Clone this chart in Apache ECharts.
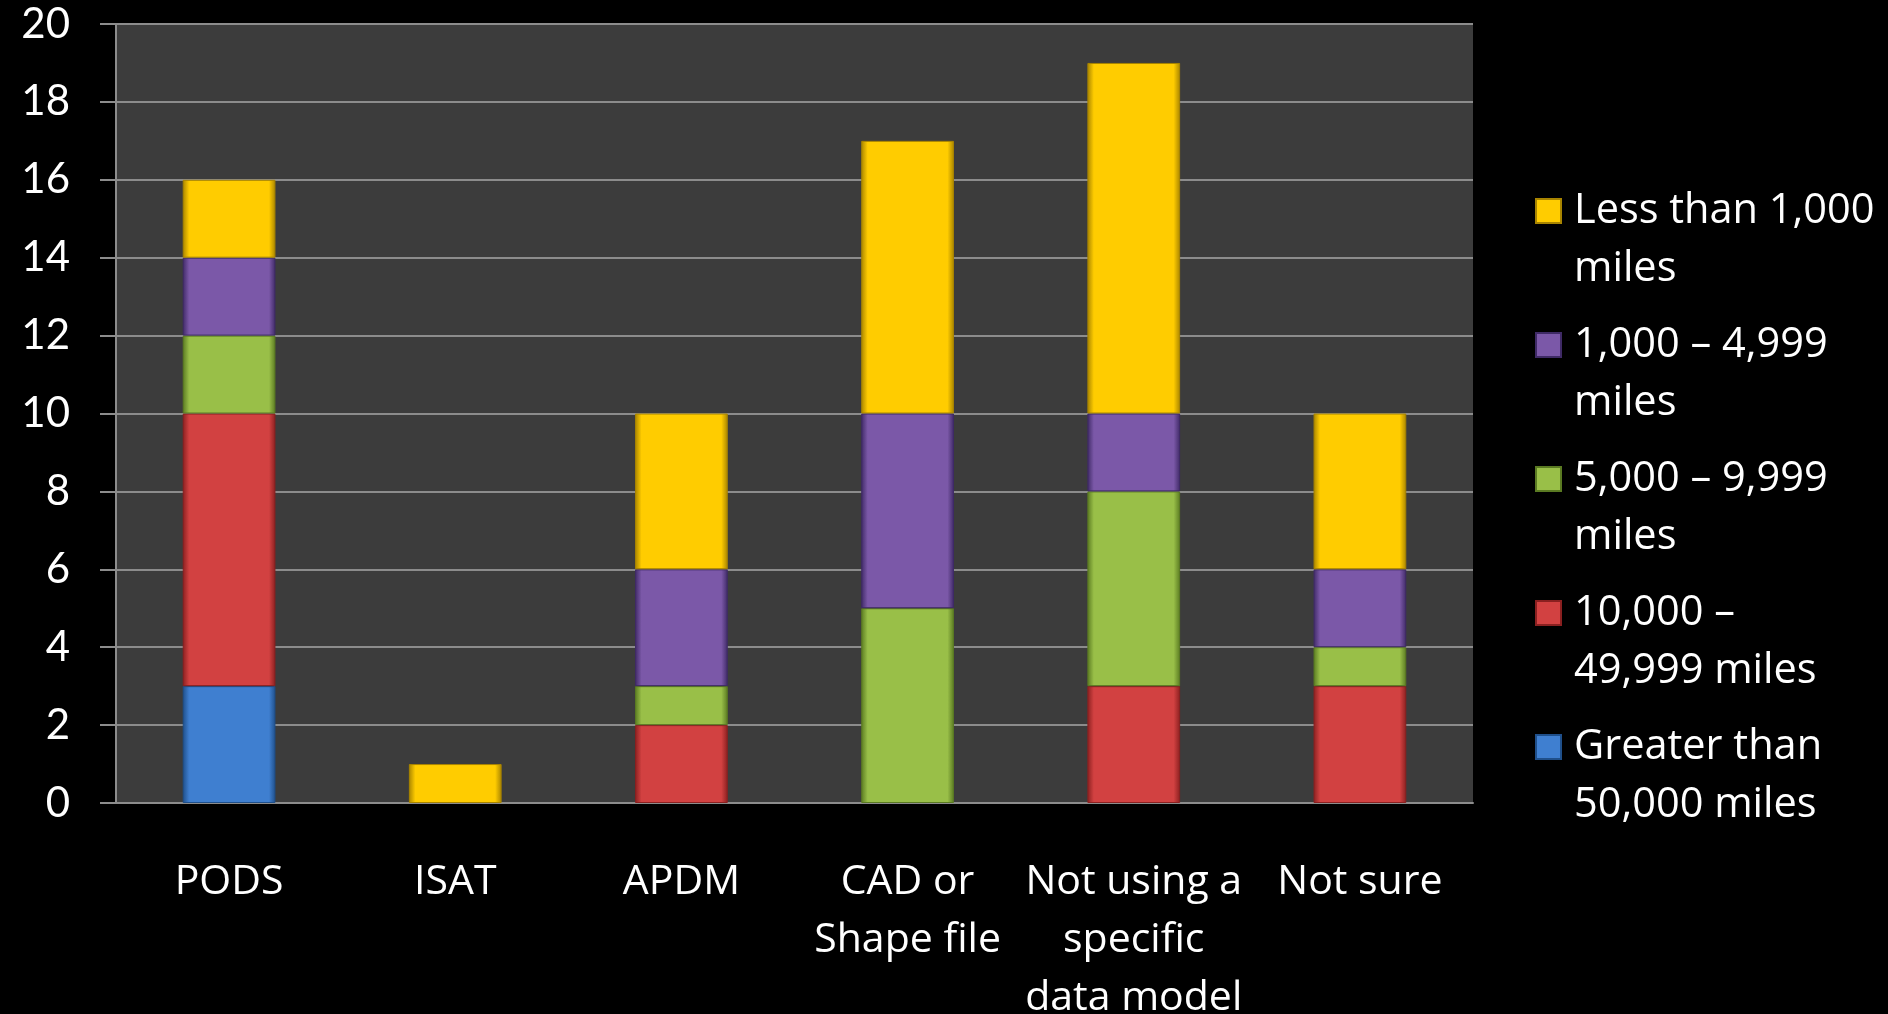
<!DOCTYPE html>
<html>
<head>
<meta charset="utf-8">
<script src="https://cdn.jsdelivr.net/npm/echarts@6/dist/echarts.min.js"></script>
<style>
html,body{margin:0;padding:0;background:#000;}
#chart{width:1888px;height:1014px;}
</style>
</head>
<body>
<div id="chart"></div>
<script>
var categories = ['PODS', 'ISAT', 'APDM', 'CAD or\nShape file', 'Not using a\nspecific\ndata model', 'Not sure'];
var seriesNames = ['Greater than 50,000 miles', '10,000 – 49,999 miles', '5,000 – 9,999 miles', '1,000 – 4,999 miles', 'Less than 1,000 miles'];
var legendLabels = ['Greater than\n50,000 miles', '10,000 –\n49,999 miles', '5,000 – 9,999\nmiles', '1,000 – 4,999\nmiles', 'Less than 1,000\nmiles'];
var greaterThan50000 = [3, null, null, null, null, null];
var from10000to49999 = [7, null, 2, null, 3, 3];
var from5000to9999 = [2, null, 1, 5, 5, 1];
var from1000to4999 = [2, null, 3, 5, 2, 2];
var lessThan1000 = [2, 1, 4, 7, 9, 4];
var yTicks = [0, 2, 4, 6, 8, 10, 12, 14, 16, 18, 20];

var values = [greaterThan50000, from10000to49999, from5000to9999, from1000to4999, lessThan1000];
var colors = ['#3f7fd0', '#d24141', '#99bf48', '#7b58a8', '#ffcc00'];
var edges = ['#1f4f8a', '#8a2020', '#5a7a22', '#3f2a66', '#a88400'];

var FONT = 'Lato';
var FONT2 = 'Open Sans';
var chart = echarts.init(document.getElementById('chart'));

function grad(c, e) {
  return new echarts.graphic.LinearGradient(0, 0, 1, 0, [
    {offset: 0, color: e}, {offset: 0.07, color: c}, {offset: 0.93, color: c}, {offset: 1, color: e}
  ]);
}

var series = seriesNames.map(function (n, i) {
  return {
    name: n,
    type: 'bar',
    stack: 'total',
    barWidth: '41%',
    data: values[i],
    itemStyle: {color: grad(colors[i], edges[i]), borderColor: edges[i], borderWidth: 1}
  };
});

chart.setOption({
  backgroundColor: '#000',
  animation: false,
  color: colors,
  grid: {left: 116, right: 415, top: 24, bottom: 211, show: true, backgroundColor: '#3c3c3c', borderWidth: 0, containLabel: false, outerBoundsMode: 'none'},
  legend: {
    orient: 'vertical',
    left: 1535,
    top: 124,
    padding: 0,
    itemWidth: 25,
    itemHeight: 24,
    itemGap: -40,
    icon: 'rect',
    data: seriesNames.slice().reverse().map(function (n) { return {name: n, itemStyle: {color: colors[seriesNames.indexOf(n)]}}; }),
    formatter: function (n) { return '\n' + legendLabels[seriesNames.indexOf(n)]; },
    textStyle: {color: '#fff', fontFamily: FONT2, fontSize: 41.5, lineHeight: 58, padding: [0, 0, 0, 8]}
  },
  xAxis: {
    type: 'category',
    data: categories,
    axisLine: {lineStyle: {color: '#8c8c8c', width: 2}},
    axisTick: {length: 16, lineStyle: {color: '#8c8c8c', width: 2}},
    axisLabel: {color: '#fff', fontFamily: FONT2, fontSize: 41, lineHeight: 58, margin: 50, interval: 0}
  },
  yAxis: {
    type: 'value',
    min: 0,
    max: 20,
    interval: 2,
    axisLine: {show: true, lineStyle: {color: '#8c8c8c', width: 2}},
    axisTick: {show: true, length: 16, lineStyle: {color: '#8c8c8c', width: 2}},
    splitLine: {lineStyle: {color: '#8c8c8c', width: 2}},
    axisLabel: {color: '#fff', fontFamily: FONT, fontSize: 42, margin: 46,
      formatter: function (v) { return yTicks.indexOf(v) >= 0 ? String(v) : ''; }}
  },
  series: series
});
</script>
</body>
</html>
